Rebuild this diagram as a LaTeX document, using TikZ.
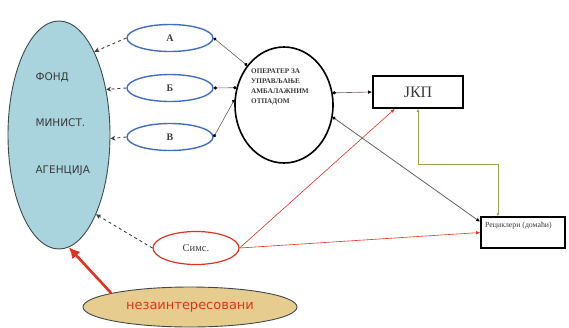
\documentclass[tikz,border=0pt]{standalone}
\usepackage{fontspec}
\setmainfont{Liberation Serif}
\newfontfamily\labelsans{DejaVu Sans}
\usetikzlibrary{shapes.geometric,arrows.meta}

\definecolor{fundblue}{HTML}{A9D4DE}
\definecolor{fundedge}{HTML}{3C4A4C}
\definecolor{typeblue}{HTML}{3F6EC2}
\definecolor{simsred}{HTML}{E2321F}
\definecolor{linkgray}{HTML}{6E5C5C}
\definecolor{olive}{HTML}{9AA24C}
\definecolor{tan}{HTML}{E6CC8E}
\definecolor{textgray}{HTML}{3A3A3A}

\tikzset{
  oval/.style={ellipse, draw, inner sep=0pt},
  typeoval/.style={oval, draw=typeblue, line width=1.4pt, minimum width=86pt, minimum height=27pt,
    font=\fontsize{10}{10}\selectfont\bfseries, text=textgray},
  boxnode/.style={draw, line width=1.8pt, inner sep=0pt},
  dashlink/.style={dashed, line width=0.9pt, draw=black!75, -{Stealth[length=5pt,width=5pt]}},
  enddot/.tip={Circle[length=3.2pt, black]},
  dotlink/.style={line width=0.6pt, draw=linkgray, {enddot}-{enddot}},
  redlink/.style={line width=0.6pt, draw=simsred, -{Latex[length=4pt,width=3.5pt]}},
  fundtext/.style={anchor=west, font=\labelsans\fontsize{10.5}{10.5}\selectfont, text=textgray},
}

\begin{document}
\begin{tikzpicture}[x=1pt,y=-1pt]
\useasboundingbox (0,0) rectangle (569,327);

% funding body
\node[oval, draw=fundedge, line width=0.9pt, fill=fundblue, minimum width=102pt, minimum height=228pt] (fund) at (59,135) {};
\node[fundtext] (fond) at (32,77) {ФОНД};
\node[fundtext] (minist) at (32,123) {МИНИСТ.};
\node[fundtext] (agency) at (32,171) {АГЕНЦИЈА};

% operator types
\node[typeoval] (A) at (170,38) {А};
\node[typeoval] (B) at (170,88) {Б};
\node[typeoval] (V) at (170,137) {В};

% operator
\node[oval, line width=1.6pt, minimum width=98pt, minimum height=116pt] (op) at (284,105) {};
\node[anchor=north west, align=left, inner sep=0pt,
      font=\fontsize{7.2}{10}\selectfont\bfseries, text=textgray] (optext) at (251,69)
  {ОПЕРАТЕР ЗА\\УПРАВЉАЊЕ\\АМБАЛАЖНИМ\\ОТПАДОМ};

% utility and recyclers
\node[boxnode, minimum width=90pt, minimum height=32pt, font=\fontsize{16}{16}\selectfont, text=textgray] (jkp) at (418,92) {ЈКП};
\node[boxnode, minimum width=84pt, minimum height=31pt] (rec) at (523,232.5) {};
\node[anchor=west, inner sep=0pt, font=\fontsize{7.8}{7.8}\selectfont, text=textgray] (rectext) at (485,226) {Рециклери (домаћи)};

% independent operator
\node[oval, draw=simsred, line width=1.2pt, minimum width=86pt, minimum height=33pt,
      font=\fontsize{10.5}{10.5}\selectfont, text=textgray] (sims) at (196,248) {Симс.};

% uninterested parties
\node[oval, draw=fundedge, line width=0.9pt, fill=tan, minimum width=214pt, minimum height=40pt,
      font=\labelsans\fontsize{13}{13}\selectfont, text=simsred] (nez) at (190,307) {незаинтересовани};

% dashed reporting links
\draw[dashlink] (A.west) -- (fund.67);
\draw[dashlink] (B.west) -- (fund.44);
\draw[dashlink] (V.west) -- (fund.-4);
\draw[dashlink] (sims.west) -- (fund.295);

% membership links
\draw[dotlink] (A.east) -- (op.133);
\draw[dotlink] (B.east) -- (op.160);
\draw[dotlink] (V.east) -- (op.174);

% operator contracts
\draw[line width=0.6pt, draw=linkgray, {enddot}-{Latex[length=4pt,width=3.5pt,black]}] (op.14) -- (jkp.west);
\draw[line width=0.8pt, draw=linkgray, {enddot}-{Latex[length=4pt,width=3.5pt,black]}] (op.346) -- (rec.166);

% utility to recyclers
\coordinate (bend) at (498,164);
\draw[line width=0.8pt, draw=olive, {Latex[length=3pt,width=3pt]}-{Latex[length=3pt,width=3pt]}] (jkp.south) |- (bend) -- (bend |- rec.north);

% independent operator flows
\draw[redlink] (sims.east) -- (jkp.216);
\draw[redlink] (sims.east) -- (rec.west);

% pressure on funding body
\draw[line width=2.6pt, draw=simsred, -{Latex[length=11pt,width=11pt]}] (nez.170) -- (fund.275);
\end{tikzpicture}
\end{document}
